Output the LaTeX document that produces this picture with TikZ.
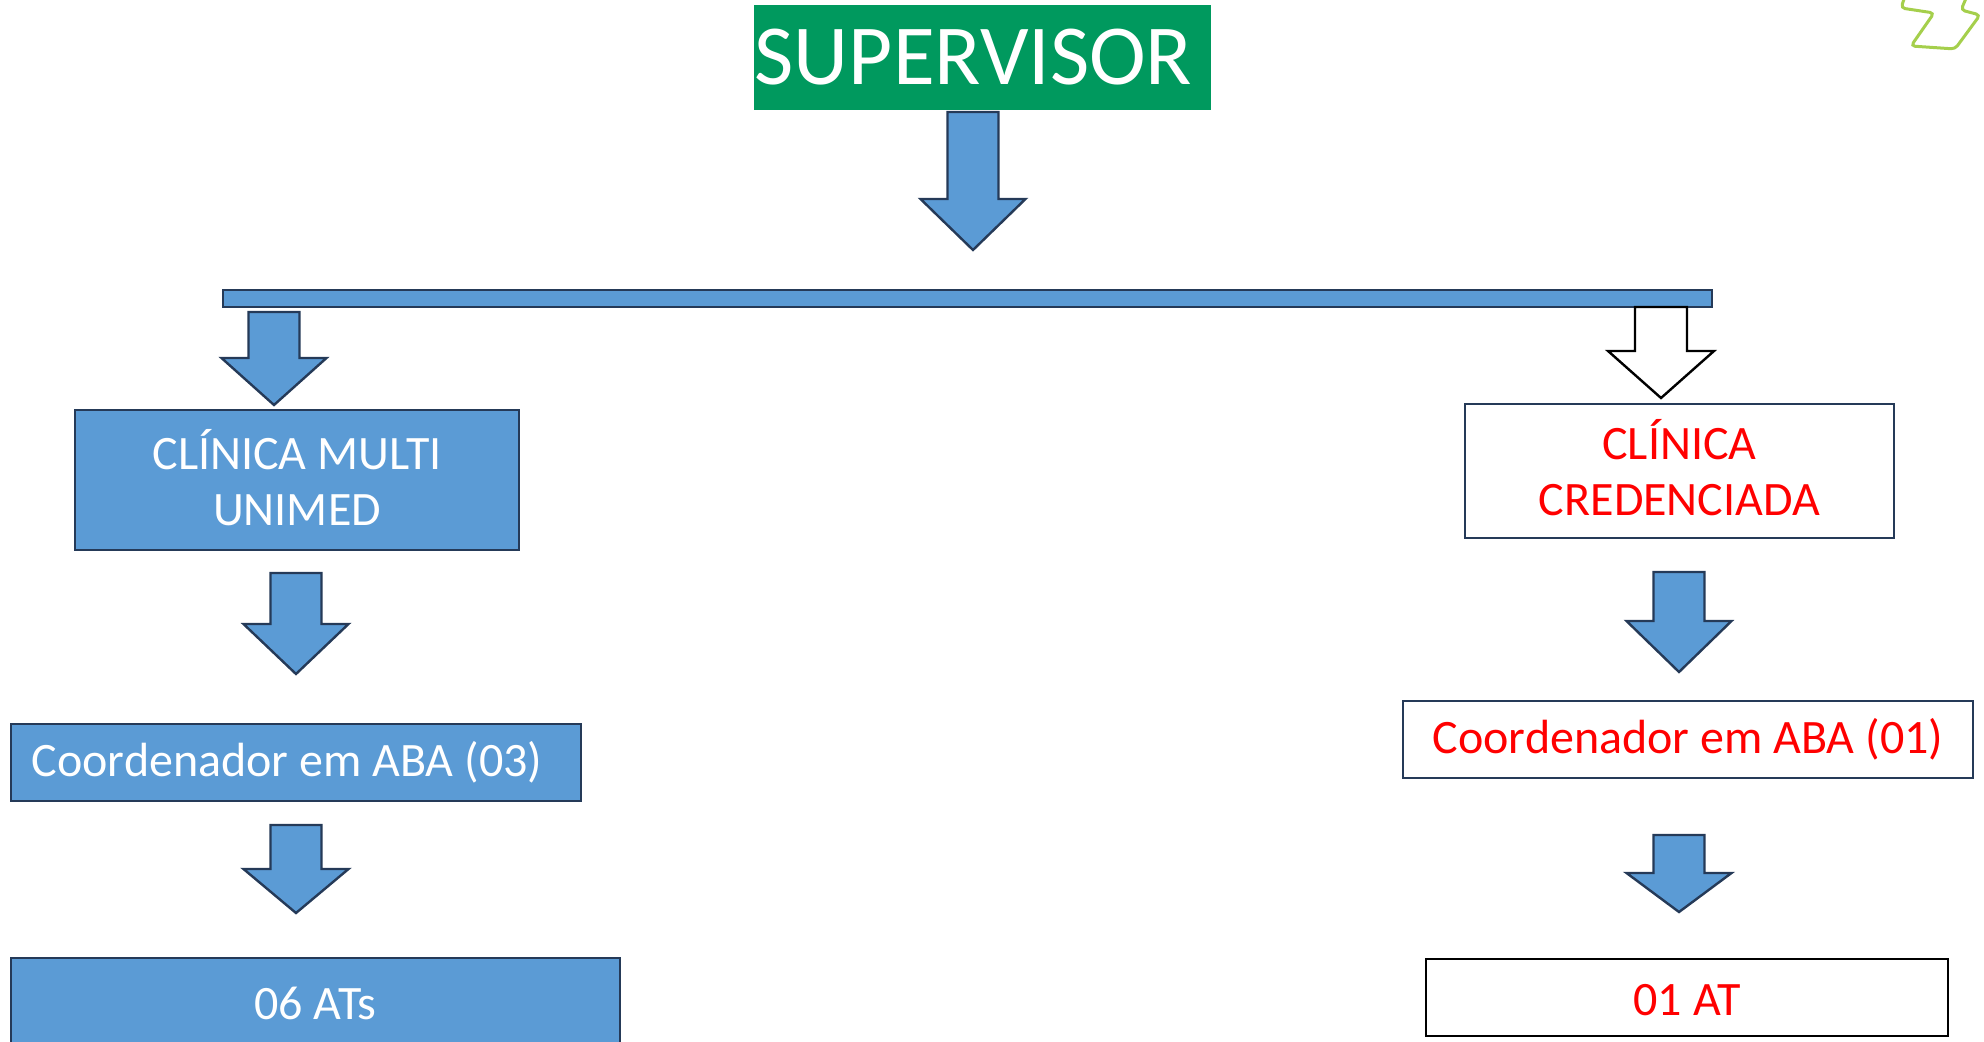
\documentclass[tikz,border=0pt]{standalone}
\usepackage{fontspec}
\setmainfont{Carlito}
\usetikzlibrary{positioning}

\definecolor{supgreen}{RGB}{0,153,94}
\definecolor{boxblue}{RGB}{91,155,213}
\definecolor{navy}{RGB}{37,58,88}
\definecolor{lime}{RGB}{165,207,76}

% block arrow pointing down: x, top, neck, tip, half shaft, half head, style
\newcommand{\DownArrow}[7]{%
	\draw[#7] (#1-#5,#2) -- (#1+#5,#2) -- (#1+#5,#3) -- (#1+#6,#3) -- (#1,#4) -- (#1-#6,#3) -- (#1-#5,#3) -- cycle;}

\begin{document}
\begin{tikzpicture}[x=0.5pt, y=-0.5pt]
			\tikzstyle{Sup}		= [rectangle, fill=supgreen, text=white, inner sep=0pt, font=\fontsize{42.75}{48}\selectfont]
			\tikzstyle{BlueBox}	= [rectangle, draw=navy, line width=1.2pt, fill=boxblue, text=white, inner sep=0pt, align=center, font=\fontsize{24}{28}\selectfont]
			\tikzstyle{WhiteBox}	= [rectangle, draw=navy, line width=1.2pt, fill=white, text=red, inner sep=0pt, align=center, font=\fontsize{24}{28}\selectfont]
			\tikzstyle{BlueArrow}	= [draw=navy, line width=1.2pt, fill=boxblue, line join=miter]
			\tikzstyle{OpenArrow}	= [draw=black, line width=1.2pt, fill=white, line join=miter]
			\tikzstyle{Deco}	= [draw=lime, line width=1.5pt, rounded corners=2pt]

			\useasboundingbox (0,0) rectangle (1984,1042);

			\node (sup) at (982.5, 57.5) [Sup, minimum width=228.5pt, minimum height=52.5pt] {SUPERVISOR\hspace*{9pt}};
			\node (bar) at (967.5, 298.5) [BlueBox, minimum width=744.5pt, minimum height=8.5pt] {};

			\node (multi) at (297, 480) [BlueBox, minimum width=222pt, minimum height=70pt] {CLÍNICA MULTI\\UNIMED\rule[-3pt]{0pt}{0pt}};
			\node (coordL) at (296, 762.5) [BlueBox, minimum width=285pt, minimum height=38.5pt] {Coordenador em ABA (03)\hspace*{9pt}};
			\node (atsL) at (315.5, 1003) [BlueBox, minimum width=304.5pt, minimum height=45pt] {06 ATs};

			\node (cred) at (1679.5, 471) [WhiteBox, minimum width=214.5pt, minimum height=67pt] {CLÍNICA\\CREDENCIADA\rule[-4pt]{0pt}{0pt}};
			\node (coordR) at (1688, 739.5) [WhiteBox, minimum width=285pt, minimum height=38.5pt] {Coordenador em ABA (01)};
			\node (atR) at (1687, 997.5) [WhiteBox, draw=black, minimum width=261pt, minimum height=38.5pt] {\rule{0pt}{18.5pt}01 AT};

			\foreach \x/\t/\n/\e in {973/112/199/250, 274/312/358/405, 296/573/624/674, 1679/572/621/672, 296/825/869/913, 1679/835/873/912}
				\DownArrow{\x}{\t}{\n}{\e}{25.5}{52.5}{BlueArrow};
			\DownArrow{1661}{307}{351}{398}{26}{53}{OpenArrow};

			\draw [Deco] (1905,-4) -- (1901,8) -- (1934,13) -- (1911,46) -- (1955,49) -- (1980,15) -- (1961,10) -- (1967,-4);
		\end{tikzpicture}
\end{document}
